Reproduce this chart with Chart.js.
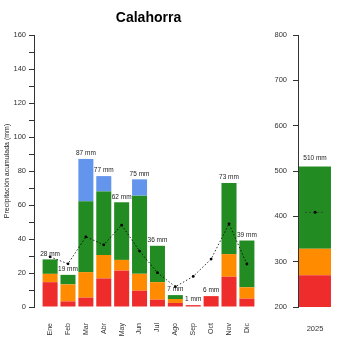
<!DOCTYPE html>
<html>
<head>
<meta charset="utf-8">
<script src="https://cdn.jsdelivr.net/npm/chart.js@4"></script>
<style>
  body { margin: 0; background: #fff; }
  #wrap { position: relative; width: 350px; height: 350px; }
  canvas { position: absolute; top: 0; }
  #mensual { left: 0; }
  #anual { left: 270px; }
</style>
</head>
<body>
<div id="wrap">
  <canvas id="mensual" width="270" height="350"></canvas>
  <canvas id="anual" width="80" height="350"></canvas>
</div>
<script>
// datos mensuales (mm por tramo, apilados)
const meses = ['Ene', 'Feb', 'Mar', 'Abr', 'May', 'Jun', 'Jul', 'Ago', 'Sep', 'Oct', 'Nov', 'Dic'];
const rojo = [14.6, 3.3, 5.5, 16.8, 21.4, 9.6, 4.3, 2.4, 1.1, 6.4, 17.8, 4.9];
const naranja = [4.9, 10.0, 15.0, 13.8, 6.3, 9.9, 10.3, 2.3, 0, 0, 13.3, 6.7];
const verde = [8.5, 5.6, 41.7, 37.4, 33.9, 46.0, 21.4, 2.3, 0, 0, 41.9, 27.5];
const azul = [0, 0, 24.9, 9.0, 0, 9.6, 0, 0, 0, 0, 0, 0];
const media = [29.5, 25.4, 41.3, 36.6, 48.2, 32.9, 20.2, 11.9, 18.0, 28.2, 48.9, 25.3];

// datos anuales
const anio = ['2025'];
const rojoAnual = [270];
const naranjaAnual = [58.5];
const verdeAnual = [181.5];
const mediaAnual = [409];

const ticksMensual = [0, 20, 40, 60, 80, 100, 120, 140, 160];

const totales = meses.map((m, i) => rojo[i] + naranja[i] + verde[i] + azul[i]);
const totalAnual = anio.map((a, i) => rojoAnual[i] + naranjaAnual[i] + verdeAnual[i]);

Chart.defaults.font.family = '"Liberation Sans", Arial, sans-serif';
Chart.defaults.color = '#333';
Chart.defaults.animation = false;

const C_ROJO = '#ee2c2c';
const C_NARANJA = '#ff8c00';
const C_VERDE = '#228b22';
const C_AZUL = '#6495ed';

// etiquetas "xx mm" encima de cada barra
function etiquetas(tots, gap) {
  return {
    id: 'etiquetas',
    afterDatasetsDraw(chart) {
      const ctx = chart.ctx;
      const x = chart.scales.x, y = chart.scales.y;
      ctx.save();
      ctx.font = '6.5px "Liberation Sans", Arial, sans-serif';
      ctx.fillStyle = '#222';
      ctx.textAlign = 'center';
      ctx.textBaseline = 'middle';
      tots.forEach((t, i) => {
        ctx.fillText(Math.round(t) + ' mm', x.getPixelForValue(i), y.getPixelForValue(t) - gap);
      });
      ctx.restore();
    }
  };
}

const xy = arr => arr.map((v, i) => ({ x: i, y: v }));

function barras(r, n, v, a) {
  const sets = [
    { label: 'r', data: r, backgroundColor: C_ROJO },
    { label: 'n', data: n, backgroundColor: C_NARANJA },
    { label: 'v', data: v, backgroundColor: C_VERDE }
  ];
  if (a) sets.push({ label: 'a', data: a, backgroundColor: C_AZUL });
  sets.forEach(s => { s.borderWidth = 0; s.order = 1; });
  return sets;
}

new Chart(document.getElementById('mensual'), {
  type: 'bar',
  data: {
    datasets: [
      {
        type: 'line',
        label: 'media',
        data: xy(media),
        borderColor: '#000',
        borderWidth: 0.8,
        borderDash: [1.5, 2],
        pointRadius: 1.4,
        pointBackgroundColor: '#000',
        pointBorderWidth: 0,
        order: 0
      },
      ...barras(xy(rojo), xy(naranja), xy(verde), xy(azul))
    ]
  },
  options: {
    responsive: false,
    devicePixelRatio: 1,
    layout: { padding: { top: 0, right: 7, left: 0, bottom: 0 } },
    datasets: { bar: { barPercentage: 0.84, categoryPercentage: 1 } },
    plugins: {
      legend: { display: false },
      tooltip: { enabled: false },
      title: {
        display: true,
        text: 'Calahorra',
        fullSize: false,
        color: '#000',
        font: { size: 14, weight: 'bold' },
        padding: { top: 10, bottom: 8.2 }
      }
    },
    scales: {
      x: {
        type: 'linear',
        min: -0.9,
        max: 11.9,
        offset: false,
        stacked: true,
        grid: { display: false },
        border: { display: false },
        afterBuildTicks: s => { s.ticks = s.ticks.filter(t => Number.isInteger(t.value)); },
        afterFit: s => { s.height = 43; },
        ticks: {
          stepSize: 1,
          autoSkip: false,
          minRotation: 90,
          maxRotation: 90,
          padding: 8,
          font: { size: 7 },
          color: '#333',
          callback: v => meses[v]
        }
      },
      y: {
        stacked: true,
        min: 0,
        max: 160,
        afterFit: s => { s.width = 34; },
        border: { display: true, color: '#333', width: 1 },
        grid: { drawOnChartArea: false, drawTicks: true, tickLength: 5, color: '#333' },
        ticks: {
          stepSize: 10,
          padding: 3,
          font: { size: 7.5 },
          color: '#333',
          callback: v => ticksMensual.includes(v) ? v : ''
        },
        title: {
          display: true,
          text: 'Precipitación acumulada (mm)',
          color: '#222',
          font: { size: 7 },
          padding: { top: 3, bottom: 0 }
        }
      }
    }
  },
  plugins: [etiquetas(totales, 5.5)]
});

// segmento discontinuo de la media anual
const segmentoMedia = {
  id: 'segmentoMedia',
  afterDatasetsDraw(chart) {
    const ctx = chart.ctx;
    const x = chart.scales.x, y = chart.scales.y;
    ctx.save();
    ctx.strokeStyle = '#333';
    ctx.lineWidth = 0.7;
    ctx.setLineDash([2, 2]);
    mediaAnual.forEach((m, i) => {
      const px = x.getPixelForValue(i), py = y.getPixelForValue(m);
      ctx.beginPath();
      ctx.moveTo(px - 10, py);
      ctx.lineTo(px + 10, py);
      ctx.stroke();
    });
    ctx.restore();
  }
};

new Chart(document.getElementById('anual'), {
  type: 'bar',
  data: {
    labels: anio,
    datasets: [
      {
        type: 'line',
        label: 'media',
        data: mediaAnual,
        showLine: false,
        pointRadius: 1.5,
        pointBackgroundColor: '#000',
        pointBorderWidth: 0,
        order: 0
      },
      ...barras(rojoAnual, naranjaAnual, verdeAnual)
    ]
  },
  options: {
    responsive: false,
    devicePixelRatio: 1,
    layout: { padding: { top: 35, right: 18, left: 0, bottom: 0 } },
    datasets: { bar: { barPercentage: 0.94, categoryPercentage: 1 } },
    plugins: {
      legend: { display: false },
      tooltip: { enabled: false }
    },
    scales: {
      x: {
        stacked: true,
        grid: { display: false },
        border: { display: false },
        afterFit: s => { s.height = 43; },
        ticks: { minRotation: 0, maxRotation: 0, padding: 9, font: { size: 7.5 }, color: '#333' }
      },
      y: {
        stacked: true,
        min: 200,
        max: 800,
        afterFit: s => { s.width = 28; },
        border: { display: true, color: '#333', width: 1 },
        grid: { drawOnChartArea: false, drawTicks: true, tickLength: 5, color: '#333' },
        ticks: { stepSize: 100, padding: 6, font: { size: 7.5 }, color: '#333' }
      }
    }
  },
  plugins: [etiquetas(totalAnual, 8), segmentoMedia]
});
</script>
</body>
</html>
